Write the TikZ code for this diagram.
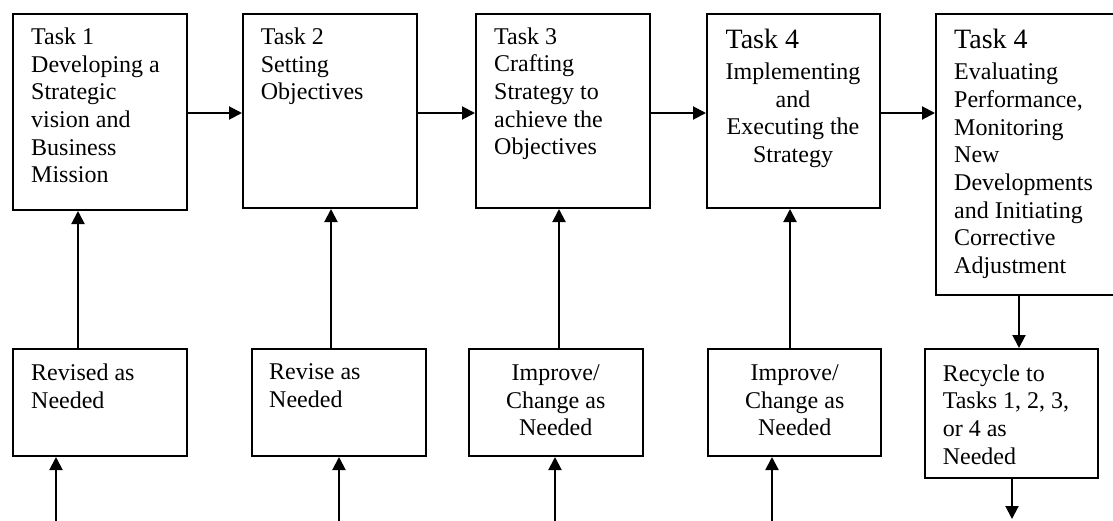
\documentclass[tikz,border=0pt]{standalone}
\usepackage{fontspec}
\setmainfont{Liberation Serif}
\usetikzlibrary{arrows.meta,calc}
\begin{document}
\begin{tikzpicture}[x=1pt,y=-1pt,
  box/.style={draw, line width=2pt, inner sep=0pt, anchor=north west},
  txt/.style={inner sep=0pt, anchor=north west, align=left, font=\fontsize{24}{27.7}\selectfont},
  ctxt/.style={inner sep=0pt, anchor=north, align=center, font=\fontsize{24}{27.7}\selectfont},
  big/.style={inner sep=0pt, anchor=north west, font=\fontsize{28}{32}\selectfont},
  arr/.style={line width=2pt, -{Triangle[length=13pt,width=13pt]}}]
\clip (0,0) rectangle (1113,520);
% task boxes
\node[box, minimum width=174pt, minimum height=196pt] (t1) at (12,13) {};
\node[box, minimum width=174pt, minimum height=194pt] (t2) at (242,13) {};
\node[box, minimum width=174pt, minimum height=194pt] (t3) at (475,13) {};
\node[box, minimum width=173pt, minimum height=194pt] (t4) at (706,13) {};
\node[box, minimum width=182pt, minimum height=281pt] (t5) at (935,13) {};
% task texts
\node[txt] (t1l) at (31,27.6) {Task 1\\Developing a\\Strategic\\vision and\\Business\\Mission};
\node[txt] (t2l) at (260.7,27.6) {Task 2\\Setting\\Objectives};
\node[txt] (t3l) at (494,27.2) {Task 3\\Crafting\\Strategy to\\achieve the\\Objectives};
\node[big] (t4h) at (725.4,29.2) {Task 4};
\node[ctxt] (t4l) at (793,62.6) {Implementing\\and\\Executing the\\Strategy};
\node[big] (t5h) at (954,29.2) {Task 4};
\node[txt] (t5l) at (954,62.9) {Evaluating\\Performance,\\Monitoring\\New\\Developments\\and Initiating\\Corrective\\Adjustment};
% lower boxes
\node[box, minimum width=174pt, minimum height=107pt] (r1) at (12,348) {};
\node[box, minimum width=174pt, minimum height=107pt] (r2) at (251,348) {};
\node[box, minimum width=174pt, minimum height=107pt] (i1) at (468,348) {};
\node[box, minimum width=173pt, minimum height=107pt] (i2) at (707,348) {};
\node[box, minimum width=173pt, minimum height=129pt] (rc) at (924,348) {};
\node[txt] (r1l) at (31,363.6) {Revised as\\Needed};
\node[txt] (r2l) at (269,363.6) {Revise as\\Needed};
\node[ctxt] (i1l) at (555.7,364.3) {Improve/\\Change as\\Needed};
\node[ctxt] (i2l) at (794.7,364.3) {Improve/\\Change as\\Needed};
\node[txt] (rcl) at (942.6,364.3) {Recycle to\\Tasks 1, 2, 3,\\or 4 as\\Needed};
% horizontal arrows
\draw[arr] (t1.east |- 0,113) -- (t2.west |- 0,113);
\draw[arr] (t2.east |- 0,113) -- (t3.west |- 0,113);
\draw[arr] (t3.east |- 0,113) -- (t4.west |- 0,113);
\draw[arr] (t4.east |- 0,113) -- (t5.west |- 0,113);
% vertical arrows up into tasks
\draw[arr] (r1.north -| 78,0) -- (t1.south -| 78,0);
\draw[arr] (r2.north -| 331,0) -- (t2.south -| 331,0);
\draw[arr] (i1.north -| 559,0) -- (t3.south -| 559,0);
\draw[arr] (i2.north -| 790,0) -- (t4.south -| 790,0);
\draw[arr] (t5.south -| 1019,0) -- (rc.north -| 1019,0);
% bottom inputs
\coordinate (b1) at (56,521);
\coordinate (b2) at (339,521);
\coordinate (b3) at (555,521);
\coordinate (b4) at (772,521);
\coordinate (e5) at (1012,519);
\draw[arr] (b1) -- (r1.south -| b1);
\draw[arr] (b2) -- (r2.south -| b2);
\draw[arr] (b3) -- (i1.south -| b3);
\draw[arr] (b4) -- (i2.south -| b4);
\draw[arr] (rc.south -| e5) -- (e5);
\end{tikzpicture}
\end{document}
